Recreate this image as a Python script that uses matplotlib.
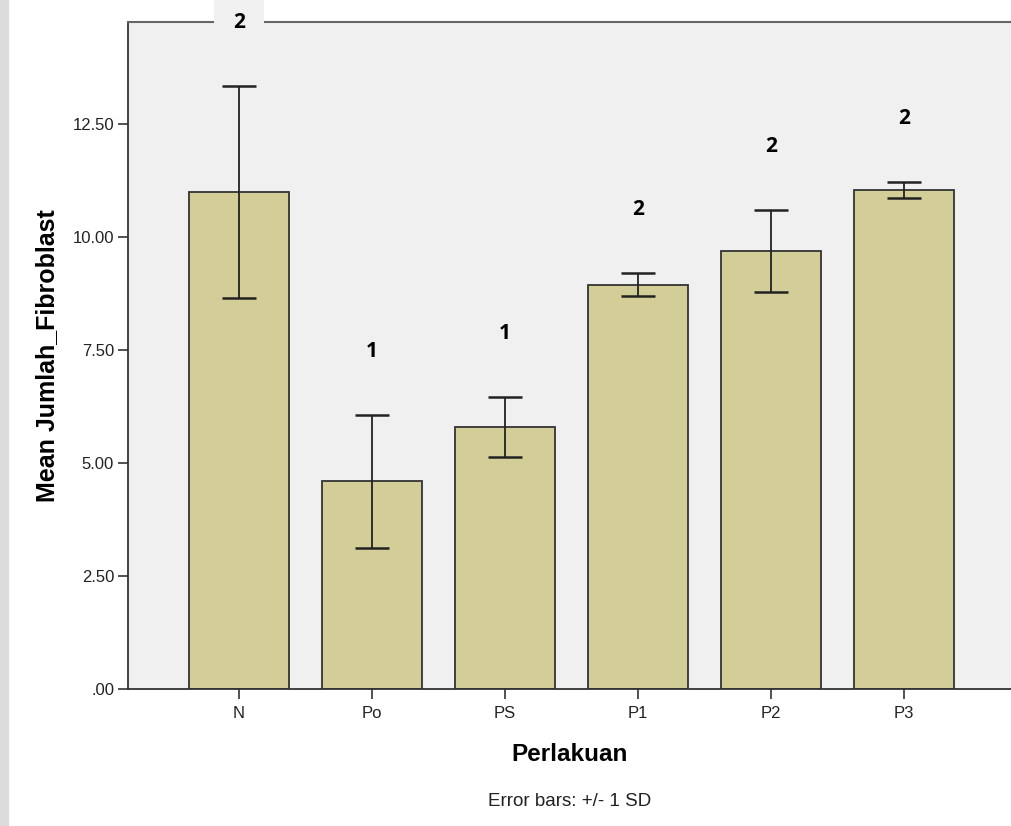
import matplotlib
matplotlib.use("Agg")
import matplotlib.pyplot as plt
from matplotlib.patches import Rectangle

# ------------------------------------------------------------
#  Data
# ------------------------------------------------------------
groups = ["N", "Po", "PS", "P1", "P2", "P3"]
means  = [11.00, 4.60, 5.80, 8.95, 9.70, 11.05]
sds    = [2.35, 1.47, 0.67, 0.25, 0.91, 0.18]
marks  = ["2", "1", "1", "2", "2", "2"]
yticks = [0.0, 2.5, 5.0, 7.5, 10.0, 12.5]
ytick_labels = [".00", "2.50", "5.00", "7.50", "10.00", "12.50"]

BAR_COLOR = "#D3CE98"
EDGE      = "#333333"
PLOT_BG   = "#F0F0F0"
FONT      = "Liberation Sans"

plt.rcParams["font.family"] = FONT

fig = plt.figure(figsize=(10.12, 8.26), dpi=100)
fig.patches.append(Rectangle((0, 0), 8 / 1012, 1, transform=fig.transFigure,
                             color="#DCDCDC", zorder=0))

ax = fig.add_axes([128 / 1012, 1 - 689 / 826, 884 / 1012, 667 / 826])
ax.set_facecolor(PLOT_BG)

x = list(range(len(groups)))
ax.bar(x, means, width=0.75, color=BAR_COLOR, edgecolor=EDGE, linewidth=1.3, zorder=2)
ax.errorbar(x, means, yerr=sds, fmt="none", ecolor="#222222", elinewidth=1.3,
            capsize=12, capthick=1.8, zorder=3)

# group letters above the error bars
for xi, m, s, lab in zip(x, means, sds, marks):
    ax.text(xi, m + s + 1.4, lab, ha="center", va="center", fontsize=15,
            fontweight="bold", family="Open Sans", zorder=5, clip_on=False,
            bbox=dict(boxstyle="square,pad=0.9", facecolor=PLOT_BG, edgecolor="none"))

ax.set_xlim(-0.835, 5.81)
ax.set_ylim(0, 14.76)
ax.set_xticks(x)
ax.set_xticklabels(groups)
ax.set_yticks(yticks)
ax.set_yticklabels(ytick_labels)
ax.tick_params(axis="both", direction="out", length=7, width=1.2, colors="#333333",
               labelsize=12, labelcolor="#222222", pad=3)
ax.tick_params(axis="x", pad=5)

for side in ["left", "bottom"]:
    ax.spines[side].set_color("#333333")
    ax.spines[side].set_linewidth(1.3)
ax.spines["top"].set_color("#666666")
ax.spines["top"].set_linewidth(1.5)
ax.spines["right"].set_visible(False)

ax.set_ylabel("Mean Jumlah_Fibroblast", fontsize=18, fontweight="bold", labelpad=10)
ax.set_xlabel("Perlakuan", fontsize=17.5, fontweight="bold", labelpad=16)

fig.text(570 / 1012, 1 - 801 / 826, "Error bars: +/- 1 SD", ha="center", va="center",
         fontsize=13.5, color="#222222")

fig.savefig("out.png", dpi=100)
